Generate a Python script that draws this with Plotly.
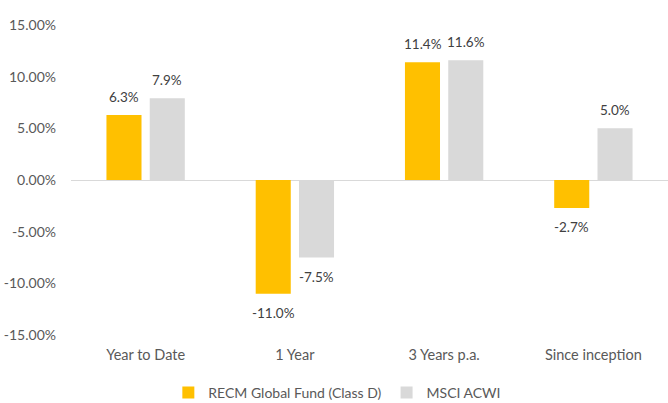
import plotly.graph_objects as go

categories = ["Year to Date", "1 Year", "3 Years p.a.", "Since inception"]
recm = [6.3, -11.0, 11.4, -2.7]
msci = [7.9, -7.5, 11.6, 5.0]
series_names = ["RECM Global Fund (Class D)", "MSCI ACWI"]
tick_vals = [-15, -10, -5, 0, 5, 10, 15]
tick_text = ["-15.00%", "-10.00%", "-5.00%", "0.00%", "5.00%", "10.00%", "15.00%"]

FONT = "Lato, Carlito, 'Liberation Sans', sans-serif"

fig = go.Figure()
fig.add_trace(go.Bar(
    x=categories, y=recm, name=series_names[0],
    marker=dict(color="#FFC000", line=dict(width=0)),
))
fig.add_trace(go.Bar(
    x=categories, y=msci, name=series_names[1],
    marker=dict(color="#D9D9D9", line=dict(width=0)),
))

# data labels placed at the end of each bar (offset within group)
for vals, side in ((recm, -1), (msci, 1)):
    for cat, v in zip(categories, vals):
        fig.add_annotation(
            x=cat, y=v, xref="x", yref="y",
            text=f"{v:.1f}%", showarrow=False,
            xshift=side * 21.5, yshift=18 if v >= 0 else -19,
            yanchor="middle", xanchor="center",
            font=dict(size=13.5, color="#404040", family=FONT),
        )

fig.update_layout(
    width=668, height=403,
    margin=dict(l=71, r=0, t=25, b=68, autoexpand=False),
    paper_bgcolor="white", plot_bgcolor="white",
    barmode="group", bargap=0.42, bargroupgap=0.19,
    font=dict(family=FONT, size=14, color="#595959"),
    showlegend=True,
    legend=dict(
        orientation="h", xref="container", yref="container",
        x=0.505, y=0.025, xanchor="center", yanchor="middle",
        font=dict(size=14, color="#595959"),
        itemwidth=30, tracegroupgap=0,
    ),
)
fig.update_xaxes(
    showline=False, showgrid=False, ticks="", automargin=False,
    ticklabelstandoff=9,
    tickfont=dict(size=14.5, color="#595959"),
)
fig.update_yaxes(
    range=[-15, 15], tickvals=tick_vals, ticktext=tick_text, automargin=False,
    showgrid=False, zeroline=True, zerolinecolor="#D9D9D9", zerolinewidth=1,
    showline=False, ticks="", ticklabelstandoff=14,
    tickfont=dict(size=14, color="#595959"),
)

fig.write_html(
    "out.html",
    config={"displayModeBar": False},
    post_script="document.body.style.margin='0';document.body.style.overflow='hidden';",
)
